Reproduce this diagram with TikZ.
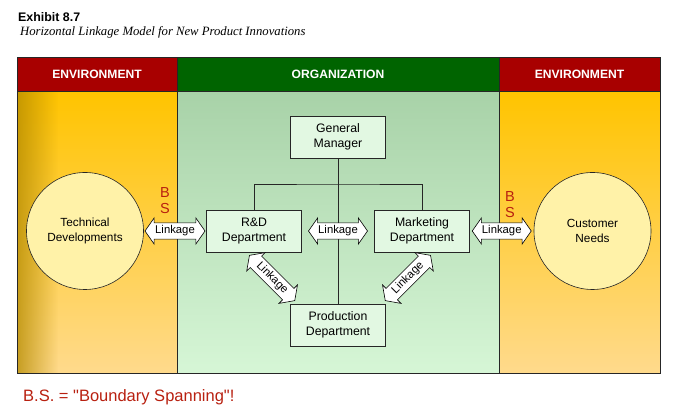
\documentclass[tikz,border=0pt]{standalone}
\usepackage{fontspec}
\setmainfont{Liberation Sans}
\newfontfamily\serifit{Liberation Serif}
\newfontfamily\plainsans[Ligatures=TeXOff]{Liberation Sans}
\usetikzlibrary{shapes.arrows,fadings,calc}
\definecolor{hdrred}{HTML}{A80000}
\definecolor{hdrgreen}{HTML}{006400}
\definecolor{envtop}{HTML}{FFC400}
\definecolor{envbot}{HTML}{FFDA8C}
\definecolor{envdark}{HTML}{B48A00}
\definecolor{orgtop}{HTML}{A8D2A8}
\definecolor{orgbot}{HTML}{D6F6D6}
\definecolor{boxfill}{HTML}{E2F8E2}
\definecolor{circfill}{HTML}{FFF2A8}
\definecolor{bsred}{HTML}{B82010}
\tikzset{
  dept/.style={draw=black!85, line width=0.6pt, fill=boxfill, align=center,
    minimum width=95pt, minimum height=42pt, inner sep=2pt,
    font=\fontsize{12.3}{14.5}\selectfont},
  envcirc/.style={circle, draw=black!85, line width=0.6pt, fill=circfill, align=center,
    minimum size=117pt, inner sep=0pt, font=\fontsize{11.8}{14.5}\selectfont},
  linkage/.style={shape=double arrow, draw=black, line width=0.6pt, fill=white,
    double arrow head extend=5pt, double arrow tip angle=110,
    inner xsep=1pt, inner ysep=2.5pt, font=\fontsize{11.3}{12}\selectfont},
  hdr/.style={text=white, font=\bfseries\fontsize{12.1}{13}\selectfont},
  bs/.style={text=bsred, font=\fontsize{14.5}{14.5}\selectfont},
  tree/.style={draw=black!85, line width=0.6pt}
}
\begin{document}
\begin{tikzpicture}[x=1pt,y=1pt]
\useasboundingbox (0,0) rectangle (698,419);
% title
\node[anchor=base west, inner sep=0pt, font=\bfseries\fontsize{12.4}{12}\selectfont] (title) at (18,397) {Exhibit 8.7};
\node[anchor=base west, inner sep=0pt, font=\serifit\itshape\fontsize{12.7}{13}\selectfont] (subtitle) at (20,383) {Horizontal Linkage Model for New Product Innovations};
% column bodies
\shade[top color=envtop, bottom color=envbot] (17,46) rectangle (177,328);
\fill[envdark, path fading=east, fill opacity=0.75] (17,46) rectangle (58,328);
\shade[top color=orgtop, bottom color=orgbot] (177,46) rectangle (499,328);
\shade[top color=envtop, bottom color=envbot] (499,46) rectangle (660,328);
% headers
\fill[hdrred] (17,328) rectangle (177,362);
\fill[hdrgreen] (177,328) rectangle (499,362);
\fill[hdrred] (499,328) rectangle (660,362);
\node[hdr] (henvl) at (97,345) {ENVIRONMENT};
\node[hdr] (horg) at (338,345) {ORGANIZATION};
\node[hdr] (henvr) at (579.5,345) {ENVIRONMENT};
% frame
\draw[black!85, line width=0.7pt] (17,46) rectangle (660,362);
\draw[black!85, line width=0.7pt] (177,46) -- (177,362) (499,46) -- (499,362) (17,328) -- (660,328);
% departments
\node[dept] (gm) at (338,282) {General\\Manager};
\node[dept] (rd) at (254,188) {R\&D\\Department};
\node[dept] (mkt) at (422,188) {Marketing\\Department};
\node[dept] (prod) at (338,94) {Production\\Department};
\coordinate (bus) at (338,235);
\draw[tree] (gm.south) -- (prod.north);
\draw[tree] (rd.north) |- (bus) -| (mkt.north);
% environment circles
\node[envcirc] (tech) at (85,188) {Technical\\Developments};
\node[envcirc] (cust) at (592.5,188) {Customer\\Needs};
% linkages
\node[linkage, minimum height=60pt] (l1) at ($(tech.east)!0.5!(rd.west)$) {Linkage};
\node[linkage, minimum height=59pt] (l2) at ($(rd.east)!0.5!(mkt.west)$) {Linkage};
\node[linkage, minimum height=59pt] (l3) at ($(mkt.east)!0.5!(cust.west)$) {Linkage};
\node[linkage, minimum height=64pt, rotate=-45] (l4) at ($(rd.south)!0.5!(prod.north west)$) {Linkage};
\node[linkage, minimum height=64pt, rotate=45] (l5) at ($(mkt.south)!0.5!(prod.north east)+(4,0)$) {Linkage};
% boundary spanning marks
\node[bs] (b1) at (165,226) {B};
\node[bs] (s1) at (165,210) {S};
\node[bs] (b2) at (510,222) {B};
\node[bs] (s2) at (510,206) {S};
% footnote
\node[anchor=base west, inner sep=0pt, text=bsred, font=\plainsans\fontsize{16.5}{17}\selectfont] (foot) at (23,17) {B.S. = "Boundary Spanning"!};
\end{tikzpicture}
\end{document}
